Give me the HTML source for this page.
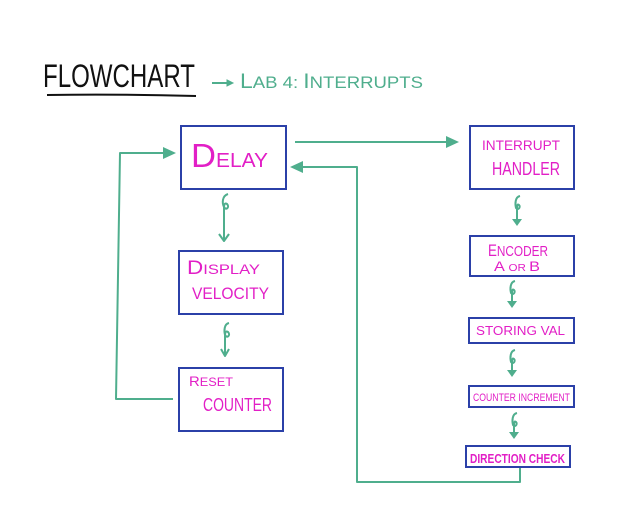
<!DOCTYPE html>
<html><head><meta charset="utf-8"><style>
html,body{margin:0;padding:0;background:#fff;}
svg{display:block;}
text{font-family:"Liberation Sans",sans-serif;}
</style></head><body>
<svg width="634" height="516" viewBox="0 0 634 516" xmlns="http://www.w3.org/2000/svg">
<rect width="634" height="516" fill="#fff"/>
<!-- Title -->
<text x="43" y="87" font-size="32" fill="#111" textLength="152" lengthAdjust="spacingAndGlyphs">FLOWCHART</text>
<path d="M47,95 Q120,94 196,96" stroke="#111" stroke-width="2" fill="none"/>
<g stroke="#4fae8d" stroke-width="2" fill="#4fae8d">
<line x1="212" y1="83" x2="228" y2="83"/>
<path d="M227,80 L233,83 L227,86 Z" stroke-width="1"/>
</g>
<text x="240" y="88" fill="#4fae8d" textLength="183" lengthAdjust="spacingAndGlyphs"><tspan font-size="21">L</tspan><tspan font-size="17">AB 4: </tspan><tspan font-size="21">I</tspan><tspan font-size="17">NTERRUPTS</tspan></text>

<!-- Boxes -->
<g fill="#fff" stroke="#2b40a8" stroke-width="2">
<rect x="181" y="126" width="105" height="63"/>
<rect x="179" y="251" width="104" height="63"/>
<rect x="179" y="368" width="104" height="63"/>
<rect x="470" y="126" width="104" height="63"/>
<rect x="470" y="236" width="104" height="40"/>
<rect x="469" y="318" width="105" height="25"/>
<rect x="469" y="386" width="105" height="21"/>
<rect x="466" y="446" width="104" height="21"/>
</g>

<!-- Labels -->
<g fill="#e21fc6">
<text x="191" y="167" textLength="77" lengthAdjust="spacingAndGlyphs"><tspan font-size="33">D</tspan><tspan font-size="20">ELAY</tspan></text>
<text x="187" y="274" textLength="73" lengthAdjust="spacingAndGlyphs"><tspan font-size="19">D</tspan><tspan font-size="14">ISPLAY</tspan></text>
<text x="192" y="299" font-size="16.5" textLength="77" lengthAdjust="spacingAndGlyphs">VELOCITY</text>
<text x="189" y="386" textLength="44" lengthAdjust="spacingAndGlyphs"><tspan font-size="14">R</tspan><tspan font-size="12">ESET</tspan></text>
<text x="203" y="411" font-size="18" textLength="69" lengthAdjust="spacingAndGlyphs">COUNTER</text>
<text x="482" y="150" font-size="14" textLength="78" lengthAdjust="spacingAndGlyphs">INTERRUPT</text>
<text x="492" y="175" font-size="18" textLength="68" lengthAdjust="spacingAndGlyphs">HANDLER</text>
<text x="488" y="256" textLength="60" lengthAdjust="spacingAndGlyphs"><tspan font-size="17">E</tspan><tspan font-size="15">NCODER</tspan></text>
<text x="494" y="271" textLength="46" lengthAdjust="spacingAndGlyphs"><tspan font-size="14">A </tspan><tspan font-size="10">OR </tspan><tspan font-size="14">B</tspan></text>
<text x="476" y="335" font-size="12.5" textLength="89" lengthAdjust="spacingAndGlyphs">STORING  VAL</text>
<text x="473" y="401" font-size="11" textLength="97" lengthAdjust="spacingAndGlyphs">COUNTER INCREMENT</text>
<text x="470" y="463" font-size="13" font-weight="bold" textLength="95" lengthAdjust="spacingAndGlyphs">DIRECTION CHECK</text>
</g>

<!-- Connectors -->
<g stroke="#4fae8d" stroke-width="2" fill="none" stroke-linejoin="round">
<!-- left loop -->
<path d="M173,399 L116,399 L120,153 L163,153"/>
<!-- delay -> interrupt -->
<line x1="295" y1="142" x2="447" y2="142"/>
<!-- return -->
<path d="M520,468 L520,482 L357,482 L357,167 L302,167"/>
<!-- delay -> display -->
<path d="M228,194 C222,196 222,203 224,207 C226,211 230,207 227,204 C224,202 224,206 224,209 L224,241"/>
<path d="M219,234 L224,241 L229,234"/>
<!-- display -> reset -->
<path d="M229,323 C224,324 224,331 225,335 C227,339 231,335 228,332 C225,330 225,334 225,337 L225,355"/>
<path d="M221,349 L225,356 L229,349"/>
<!-- interrupt -> encoder -->
<path d="M520,196 C515,197 515,204 516,208 C518,211 521,207 519,205 C517,203 517,207 517,210 L517,220"/>
<!-- encoder -> storing -->
<path d="M515,281 C510,282 510,289 511,293 C513,296 516,292 514,290 C512,288 512,292 512,295 L512,302"/>
<!-- storing -> counter -->
<path d="M515,350 C510,351 510,358 511,362 C513,365 516,361 514,359 C512,357 512,361 512,364 L512,371"/>
<!-- counter -> direction -->
<path d="M517,413 C512,414 512,421 513,425 C515,428 518,424 516,422 C514,420 514,424 514,427 L514,433"/>
</g>
<g fill="#4fae8d">
<path d="M163,147 L176,153 L163,159 Z"/>
<path d="M446,136 L459,142 L446,148 Z"/>
<path d="M303,161 L290,167 L303,173 Z"/>
<path d="M512,219 L517,226 L522,219 Z"/>
<path d="M507,301 L512,308 L517,301 Z"/>
<path d="M507,370 L512,377 L517,370 Z"/>
<path d="M509,432 L514,439 L519,432 Z"/>
</g>
</svg>
</body></html>
